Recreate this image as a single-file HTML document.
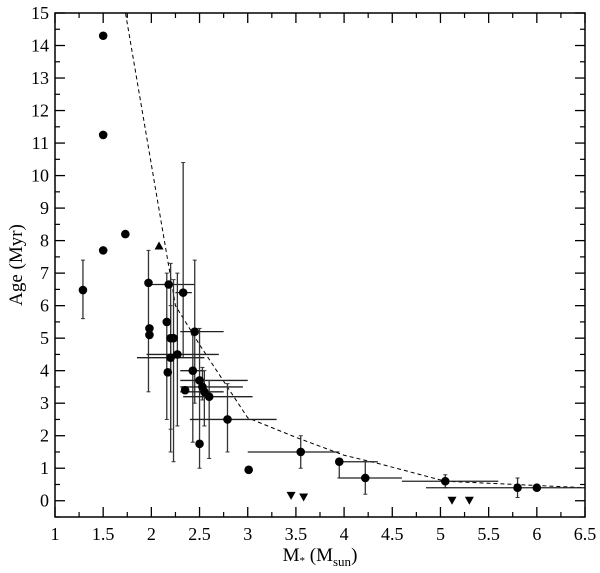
<!DOCTYPE html>
<html><head><meta charset="utf-8"><style>
body{margin:0;background:#fff}
svg text{font-family:"Liberation Serif",serif;fill:#000}
</style></head><body>
<svg id="chart" width="600" height="568" xmlns="http://www.w3.org/2000/svg">
<g id="plot"></g>
<text transform="translate(22,265) rotate(-90)" text-anchor="middle" font-size="19">Age (Myr)</text>
<text x="320" y="561" text-anchor="middle" font-size="19">M<tspan font-size="11" dy="3">*</tspan><tspan dy="-3"> (M</tspan><tspan font-size="13" dy="5">sun</tspan><tspan dy="-5">)</tspan></text>
</svg>
<script>
const xTicks=[1,1.5,2,2.5,3,3.5,4,4.5,5,5.5,6,6.5];
const yTicks=[0,1,2,3,4,5,6,7,8,9,10,11,12,13,14,15];
const ptX=[1.29,1.5,1.5,1.5,1.73,1.97,2.18,2.33,1.98,1.98,2.16,2.45,2.2,2.23,2.2,2.27,2.17,2.43,2.5,2.35,2.53,2.55,2.6,2.79,2.5,3.01,3.55,3.95,4.22,5.05,5.8,6.0];
const ptY=[6.48,14.3,11.25,7.7,8.2,6.7,6.65,6.4,5.3,5.1,5.5,5.2,5.0,5.0,4.4,4.5,3.95,4.0,3.7,3.4,3.5,3.35,3.2,2.5,1.75,0.95,1.5,1.2,0.7,0.6,0.4,0.4];
const yLo=[5.6,null,null,null,null,3.35,null,4.4,null,null,2.5,3.0,2.2,1.2,1.5,2.3,null,1.8,1.0,null,3.1,2.3,1.3,1.5,null,null,1.0,0.7,0.2,0.4,0.1,null];
const yHi=[7.4,null,null,null,null,7.7,null,10.4,null,null,7.0,7.4,6.0,6.8,7.3,7.0,null,5.1,5.3,null,4.1,4.0,3.7,3.6,null,null,2.0,1.2,1.2,0.8,0.7,null];
const xLo=[null,null,null,null,null,null,1.97,2.25,null,null,null,2.3,null,null,1.85,1.95,null,2.3,2.3,null,2.3,2.3,2.33,2.4,null,null,3.0,3.95,3.95,4.6,4.85,null];
const xHi=[null,null,null,null,null,null,2.45,2.42,null,null,null,2.75,null,null,2.55,2.7,null,2.55,3.0,null,2.95,2.75,3.05,3.3,null,null,3.95,4.35,4.6,5.6,6.5,null];
const triUpX=[2.08], triUpY=[7.85];
const triDnX=[3.45,3.58,5.12,5.3], triDnY=[0.15,0.1,0.0,0.0];
const lineX=[1.72,2.25,2.5,3.0,3.5,4.0,4.35,5.05,6.5];
const lineY=[15.2,6.0,4.8,2.55,1.95,1.4,1.15,0.6,0.4];
const L=55,R=585,T=13,B=517,x0=1,x1=6.5,y0=-0.5,y1=15;
const sx=v=>L+(v-x0)/(x1-x0)*(R-L), sy=v=>B-(v-y0)/(y1-y0)*(B-T);
const NS="http://www.w3.org/2000/svg", g=document.getElementById('plot');
function mk(t,a){const e=document.createElementNS(NS,t);for(const k in a)e.setAttribute(k,a[k]);g.appendChild(e);return e;}
// clip
const defs=mk('defs',{});const cp=document.createElementNS(NS,'clipPath');cp.setAttribute('id','c');defs.appendChild(cp);
const cr=document.createElementNS(NS,'rect');cr.setAttribute('x',L);cr.setAttribute('y',T);cr.setAttribute('width',R-L);cr.setAttribute('height',B-T);cp.appendChild(cr);
// ticks
xTicks.forEach((v,i)=>{const X=sx(v);
 let t=mk('line',{x1:X,x2:X,y1:B,y2:B-10,stroke:'#000','stroke-width':1.3});
 mk('line',{x1:X,x2:X,y1:T,y2:T+10,stroke:'#000','stroke-width':1.3});
 if(i<xTicks.length-1){const m=sx(v+0.25);mk('line',{x1:m,x2:m,y1:B,y2:B-5,stroke:'#000','stroke-width':1.2});mk('line',{x1:m,x2:m,y1:T,y2:T+5,stroke:'#000','stroke-width':1.2});}
 const tx=mk('text',{x:X,y:B+23,'text-anchor':'middle','font-size':18});tx.textContent=String(v);
 });
yTicks.forEach(v=>{const Y=sy(v);
 let t=mk('line',{x1:L,x2:L+10,y1:Y,y2:Y,stroke:'#000','stroke-width':1.3});
 mk('line',{x1:R,x2:R-10,y1:Y,y2:Y,stroke:'#000','stroke-width':1.3});
 const m=sy(v-0.5);mk('line',{x1:L,x2:L+5,y1:m,y2:m,stroke:'#000','stroke-width':1.2});mk('line',{x1:R,x2:R-5,y1:m,y2:m,stroke:'#000','stroke-width':1.2});
 const tx=mk('text',{x:L-6,y:Y+6,'text-anchor':'end','font-size':18});tx.textContent=String(v);
 });
// dashed line
const pl=mk('polyline',{points:lineX.map((v,i)=>sx(v)+','+sy(lineY[i])).join(' '),fill:'none',stroke:'#000','stroke-width':1,'stroke-dasharray':'4,3','clip-path':'url(#c)'});

// error bars + points
ptX.forEach((v,i)=>{const X=sx(v),Y=sy(ptY[i]);
 if(yLo[i]!=null){const e=mk('line',{x1:X,x2:X,y1:sy(yLo[i]),y2:sy(yHi[i]),stroke:'#333','stroke-width':1.3});
  mk('line',{x1:X-2,x2:X+2,y1:sy(yLo[i]),y2:sy(yLo[i]),stroke:'#333'});mk('line',{x1:X-2,x2:X+2,y1:sy(yHi[i]),y2:sy(yHi[i]),stroke:'#333'});}
 if(xLo[i]!=null){const e=mk('line',{x1:sx(xLo[i]),x2:sx(xHi[i]),y1:Y,y2:Y,stroke:'#222','stroke-width':1.3});}
});
ptX.forEach((v,i)=>{const c=mk('circle',{cx:sx(v),cy:sy(ptY[i]),r:4.3,fill:'#000'});});
triUpX.forEach((v,i)=>{const X=sx(v),Y=sy(triUpY[i]);const p=mk('polygon',{points:`${X-4.5},${Y+4} ${X+4.5},${Y+4} ${X},${Y-4}`,fill:'#000'});});
triDnX.forEach((v,i)=>{const X=sx(v),Y=sy(triDnY[i]);const p=mk('polygon',{points:`${X-4.5},${Y-4} ${X+4.5},${Y-4} ${X},${Y+4}`,fill:'#000'});});
const fr=mk('rect',{x:L,y:T,width:R-L,height:B-T,fill:'none',stroke:'#000','stroke-width':1.5});

</script>
</body></html>
